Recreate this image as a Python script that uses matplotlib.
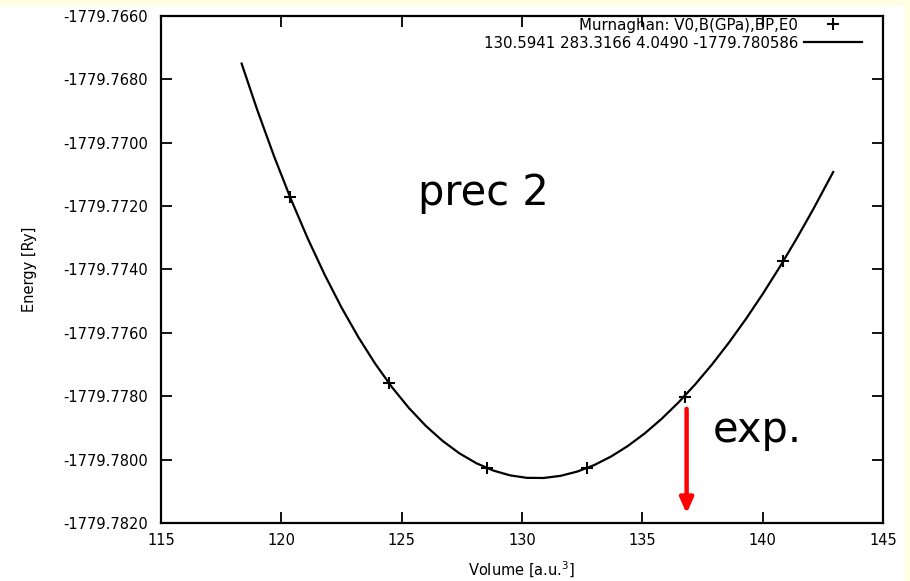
import numpy as np
import matplotlib
matplotlib.use("Agg")
import matplotlib.pyplot as plt
from matplotlib.patches import Rectangle

# Calculated points (volume in a.u.^3, energy in Ry)
vol_pts = [120.36, 124.49, 128.53, 132.69, 136.77, 140.86]
en_pts = [-1779.77172, -1779.77759, -1779.78027, -1779.78028, -1779.77802, -1779.77373]

# Murnaghan fit curve
vol_fit = [118.35, 119.0, 119.7, 120.4, 121.1, 121.8, 122.5, 123.2, 123.9, 124.6,
           125.3, 126.0, 126.7, 127.4, 128.1, 128.8, 129.5, 130.2, 130.9, 131.6,
           132.3, 133.0, 133.7, 134.4, 135.1, 135.8, 136.5, 137.2, 137.9, 138.6,
           139.3, 140.0, 140.7, 141.4, 142.1, 142.93]
en_fit = [-1779.767502, -1779.768966, -1779.770430, -1779.771783, -1779.773026,
          -1779.774164, -1779.775199, -1779.776135, -1779.776973, -1779.777717,
          -1779.778369, -1779.778933, -1779.779409, -1779.779802, -1779.780112,
          -1779.780343, -1779.780496, -1779.780575, -1779.780579, -1779.780512,
          -1779.780376, -1779.780172, -1779.779902, -1779.779568, -1779.779172,
          -1779.778714, -1779.778197, -1779.777622, -1779.776992, -1779.776305,
          -1779.775566, -1779.774775, -1779.773932, -1779.773040, -1779.772100,
          -1779.770923]

pts_label = "Murnaghan: V0,B(GPa),BP,E0"
fit_label = "130.5941 283.3166 4.0490 -1779.780586"

x_ticks = [115, 120, 125, 130, 135, 140, 145]
y_ticks = np.linspace(-1779.782, -1779.766, 9)

fig = plt.figure(figsize=(9.1, 5.81), dpi=100)
fig.patch.set_facecolor("white")
# pale yellow slide border at top and right
fig.patches.append(Rectangle((0, 1 - 6 / 581), 1, 6 / 581, transform=fig.transFigure,
                             facecolor="#fffde4", edgecolor="none", zorder=0))
fig.patches.append(Rectangle((1 - 6 / 910, 0), 6 / 910, 1, transform=fig.transFigure,
                             facecolor="#fffde4", edgecolor="none", zorder=0))

ax = fig.add_axes([161 / 910, 1 - 523 / 581, 722 / 910, 507 / 581])

ax.plot(vol_pts, en_pts, linestyle="none", marker="+", color="black",
        markersize=8, markeredgewidth=1.5, label=pts_label)
ax.plot(vol_fit, en_fit, color="black", linewidth=1.6, label=fit_label)

ax.set_xlim(115, 145)
ax.set_ylim(-1779.782, -1779.766)
ax.set_xticks(x_ticks)
ax.set_yticks(y_ticks)
ax.set_xticklabels([str(t) for t in x_ticks])
ax.set_yticklabels(["%.4f" % t for t in y_ticks])
ax.tick_params(direction="in", length=8, width=1.3, top=True, right=True,
               labelsize=10.5, colors="black")
ax.tick_params(axis="y", pad=9.5)
ax.tick_params(axis="x", pad=7)
for s in ax.spines.values():
    s.set_linewidth(1.6)

ax.set_xlabel("Volume [a.u.$^3$]", fontsize=10.5)
ax.set_ylabel("Energy [Ry]", fontsize=10.5)
ax.xaxis.set_label_coords(0.5, -0.072)
ax.yaxis.set_label_coords(-0.172, 0.5)

leg = ax.legend(loc="upper right", bbox_to_anchor=(0.971, 0.997), frameon=False,
                markerfirst=False, fontsize=10.8, handlelength=3.9,
                handletextpad=0.35, labelspacing=0.2, borderaxespad=0,
                borderpad=0)

# annotations
ax.text(128.38, -1779.77197, "prec 2", fontsize=30, color="black",
        ha="center", va="baseline")
ax.text(137.94, -1779.77944, "exp.", fontsize=30, color="black",
        ha="left", va="baseline")
ax.annotate("", xy=(136.84, -1779.7817), xytext=(136.84, -1779.7784),
            arrowprops=dict(arrowstyle="-|>,head_length=0.9,head_width=0.4",
                            color="red", linewidth=3.2, shrinkA=0, shrinkB=0))

fig.savefig("out.png", dpi=100)
